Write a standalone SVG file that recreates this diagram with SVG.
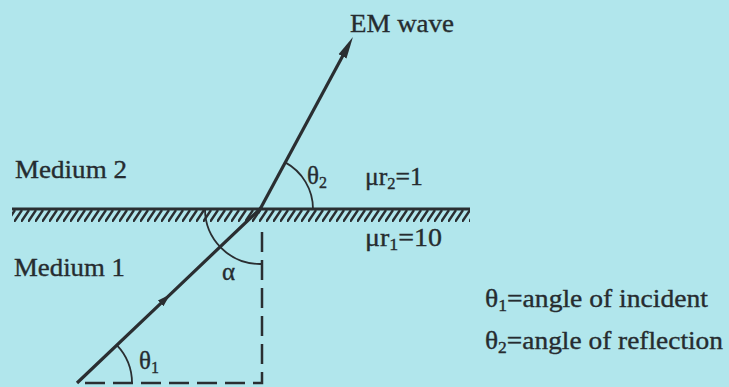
<svg xmlns="http://www.w3.org/2000/svg" width="729" height="387" viewBox="0 0 729 387">
<defs>
<style>
.bg{fill:#b1e6ec}
.t{font-family:"Liberation Serif","Times New Roman",serif;fill:#262c30;font-size:25px;stroke:#262c30;stroke-width:0.35}
.sub{font-size:16px}
.ray{fill:none;stroke:#2a2e31;stroke-width:3.2}
.iface{stroke:#2a2e31;stroke-width:3}
.arc{fill:none;stroke:#2a2e31;stroke-width:1.8}
.dash{fill:none;stroke:#2a2e31;stroke-width:2.5;stroke-dasharray:20 8}
</style>
<pattern id="hatch" patternUnits="userSpaceOnUse" x="0" y="210" width="7" height="12">
<path d="M0,12 L8,0 M-7,12 L1,0" stroke="#2a2e31" stroke-width="2.4"/>
</pattern>
<marker id="headEnd" markerUnits="userSpaceOnUse" orient="auto" markerWidth="26" markerHeight="12" refX="12" refY="0" viewBox="0 -6 26 12">
<path d="M0,-4.5 L22,0 L0,4.5 Z" fill="#2a2e31"/>
</marker>
<marker id="headMid" markerUnits="userSpaceOnUse" orient="auto" markerWidth="16" markerHeight="12" refX="6" refY="0" viewBox="0 -6 16 12">
<path d="M0,-4 L13,0 L0,4 Z" fill="#2a2e31"/>
</marker>
</defs>
<rect class="bg" x="0" y="0" width="729" height="387"/>

<g id="interface">
<rect x="12" y="210" width="458" height="12" fill="url(#hatch)"/>
<line class="iface" x1="12" y1="209" x2="470" y2="209"/>
</g>

<g id="connectors">
<path id="incident-ray" class="ray" d="M77,383 L165,299.3 L262,207" marker-mid="url(#headMid)"/>
<path id="refracted-ray" class="ray" d="M258,213 L348.2,45.8" marker-end="url(#headEnd)"/>
<path id="normal-dashed" class="dash" d="M262,232 V383 H78"/>
</g>

<g id="angles">
<path id="arc-alpha" class="arc" d="M205,209 A55,55 0 0 0 260,264 L262,264"/>
<path id="arc-theta2" class="arc" d="M313,209 A53,53 0 0 0 285.2,162.4"/>
<path id="arc-theta1" class="arc" d="M132,383 A55,55 0 0 0 116.8,345.1"/>
</g>

<g id="labels">
<text class="t" x="350" y="32" style="font-size:26px" textLength="104" lengthAdjust="spacingAndGlyphs">EM wave</text>
<text class="t" x="15" y="178" textLength="112" lengthAdjust="spacingAndGlyphs">Medium 2</text>
<text class="t" x="14" y="276" textLength="111" lengthAdjust="spacingAndGlyphs">Medium 1</text>
<text class="t" x="307" y="184">θ<tspan class="sub" dy="4">2</tspan></text>
<text class="t" x="365" y="185" textLength="58" lengthAdjust="spacingAndGlyphs">μr<tspan class="sub" dy="4">2</tspan><tspan dy="-4">=1</tspan></text>
<text class="t" x="365" y="246" textLength="77" lengthAdjust="spacingAndGlyphs">μr<tspan class="sub" dy="4">1</tspan><tspan dy="-4">=10</tspan></text>
<text class="t" x="222" y="280">α</text>
<text class="t" x="139" y="369">θ<tspan class="sub" dy="4">1</tspan></text>
<text class="t" x="485" y="307" textLength="223" lengthAdjust="spacingAndGlyphs">θ<tspan class="sub" dy="4">1</tspan><tspan dy="-4">=angle of incident</tspan></text>
<text class="t" x="485" y="349" textLength="238" lengthAdjust="spacingAndGlyphs">θ<tspan class="sub" dy="4">2</tspan><tspan dy="-4">=angle of reflection</tspan></text>
</g>
</svg>
